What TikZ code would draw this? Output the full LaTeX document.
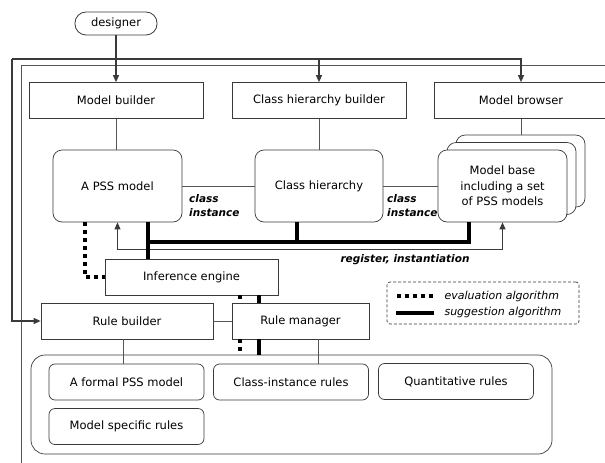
\documentclass[tikz,border=0pt]{standalone}
\usepackage{fontspec}
\setmainfont{DejaVu Sans}
\usepackage{tikz}
\usetikzlibrary{arrows.meta}
\definecolor{frame}{HTML}{3A3A3A}
\definecolor{wiregray}{HTML}{555555}

\begin{document}
\begin{tikzpicture}[x=1pt, y=-1pt, font=\fontsize{11.5}{15.5}\selectfont]
    \tikzstyle{box} = [draw=frame, line width=0.7pt, minimum height=36, inner sep=0pt, align=center];
    \tikzstyle{rbox} = [box, rounded corners=9];
    \tikzstyle{wire} = [draw=wiregray, line width=0.6pt];
    \tikzstyle{feed} = [draw=frame, line width=1.1pt, -{Triangle[length=7pt,width=6pt]}];
    \tikzstyle{sugg} = [line width=3.5pt];
    \tikzstyle{eval} = [line width=3.5pt, dash pattern=on 4pt off 4pt];
    \tikzstyle{note} = [font=\fontsize{10.5}{14}\selectfont\bfseries\itshape, align=left, inner sep=0pt];
    \useasboundingbox (0,0) rectangle (605,463);
    \clip (0,0) rectangle (605,463);

    \node[draw=frame, line width=0.8pt, rounded corners=11, minimum width=82, minimum height=23, inner sep=0pt] (designer) at (116,23.5) {designer};
    \foreach \n/\l/\x in {mb/Model builder/116, chb/Class hierarchy builder/319, brw/Model browser/521}
    {\node[box, minimum width=174] (\n) at (\x,100.5) {\l};}

    \node[rbox, minimum width=129, minimum height=72] (psm) at (117.5,186) {A PSS model};
    \node[rbox, minimum width=128, minimum height=72] (ch) at (319,186) {Class hierarchy};
    \foreach \d/\n in {18/back2, 9/back1}
    {\node[rbox, fill=white, minimum width=129, minimum height=72] (\n) at (502.5+\d, 186-\d*0.83) {};}
    \node[rbox, fill=white, minimum width=129, minimum height=72] (base) at (502.5,186) {Model base\\including a set\\of PSS models};

    \node[box, minimum width=173] (ie) at (191.5,277) {Inference engine};
    \node[box, minimum width=172] (rb) at (127,321) {Rule builder};
    \node[box, minimum width=137] (rm) at (300.5,321) {Rule manager};
    \node[rbox, rounded corners=14, minimum width=521, minimum height=99] (rules) at (291.5,404.5) {};
    \foreach \n/\l/\x/\y in {fpm/A formal PSS model/126.5/382, cir/Class-instance rules/291/382,
        qr/Quantitative rules/456/381.5, msr/Model specific rules/126.5/426.5}
    {\node[rbox, rounded corners=6, minimum width=155] (\n) at (\x,\y) {\l};}

    \draw[draw=wiregray, line width=0.8pt] (21,470) -- (21,65) -- (615,65);
    \coordinate (corner) at (12,59);
    \draw[feed] (designer) -- (mb);
    \draw[feed] (corner) -| (brw);
    \draw[feed] (corner) |- (rb);
    \draw[feed] (chb |- corner) -- (chb);

    \draw[wire] (mb.south) -- (mb.south |- psm.north);
    \draw[wire] (chb.south) -- (chb.south |- ch.north);
    \draw[wire] (brw.south) -- (brw.south |- back2.north);
    \draw[wire] (psm) -- (ch);
    \draw[wire] (ch) -- (base);
    \draw[wire] (rb) -- (rm);
    \draw[wire] ([xshift=-4]rb.south) -- ([xshift=-4]rb.south |- fpm.north);
    \draw[wire] ([xshift=17.5]rm.south) -- ([xshift=17.5]rm.south |- cir.north);

    \coordinate (bus) at (0,242);
    \draw[draw=frame, line width=1.1pt, {Triangle[length=7pt,width=6pt]}-{Triangle[length=7pt,width=6pt]}] (psm.south) -- ++(0,27) -| (base.south);
    \draw[sugg] ([xshift=30.5]psm.south) -- ([xshift=30.5]psm.south |- ie.north);
    \draw[sugg] ([xshift=30.5]psm.south |- bus) -| ([xshift=-33.5]base.south);
    \draw[sugg] ([xshift=-22]ch.south) -- ([xshift=-22]ch.south |- bus);
    \draw[eval] ([xshift=-32.5]psm.south) |- (ie.west);
    \draw[eval] ([xshift=48.5]ie.south) -- ([xshift=48.5]ie.south |- rm.north);
    \draw[sugg] ([xshift=67.5]ie.south) -- ([xshift=67.5]ie.south |- rm.north);
    \draw[eval] ([xshift=48.5]ie.south |- rm.south) -- ([xshift=48.5]ie.south |- rules.north);
    \draw[sugg] ([xshift=67.5]ie.south |- rm.south) -- ([xshift=67.5]ie.south |- rules.north);

    \node[note, anchor=west] (ci1) at (189,206) {class\\instance};
    \node[note, anchor=west] (ci2) at (387,206) {class\\instance};
    \node[note] (reg) at (405,260) {register, instantiation};

    \node[draw=frame, line width=0.7pt, dash pattern=on 3pt off 2pt, rounded corners=3, minimum width=192, minimum height=42] (legend) at (483,303) {};
    \coordinate (ev) at (397,296);
    \coordinate (sg) at (396,313);
    \draw[eval] (ev) -- ++(36,0);
    \draw[sugg] (sg) -- ++(38,0);
    \node[anchor=west, font=\fontsize{11}{13}\selectfont\itshape] (evtext) at (441,296) {evaluation algorithm};
    \node[anchor=west, font=\fontsize{11}{13}\selectfont\itshape] (sgtext) at (441,312) {suggestion algorithm};
\end{tikzpicture}
\end{document}
